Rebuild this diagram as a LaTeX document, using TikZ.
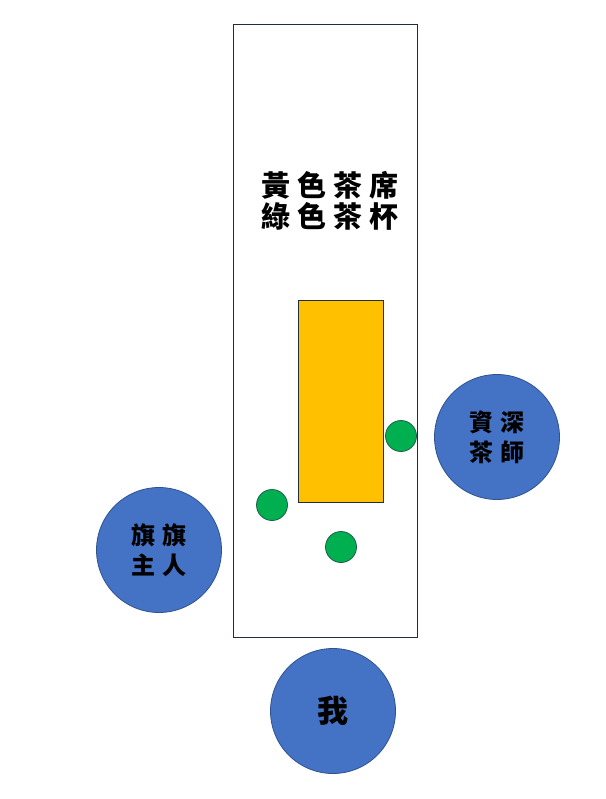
\documentclass[tikz,border=0pt]{standalone}
\usepackage{fontspec}
\newfontfamily\cjk[LetterSpace=30]{Noto Sans CJK TC}
\newfontfamily\cjkb[LetterSpace=25]{Noto Sans CJK TC}
\newfontfamily\cjkc{Noto Sans CJK TC}
\definecolor{pblue}{HTML}{4472C4}
\definecolor{pblueline}{HTML}{2F528F}
\definecolor{pgreen}{HTML}{00B050}
\definecolor{pgreenline}{HTML}{1E5E4A}
\definecolor{porange}{HTML}{FFC000}
\definecolor{pline}{HTML}{1F2D3D}
\tikzset{
  person/.style={circle, fill=pblue, draw=pblueline, line width=0.8pt, minimum size=125pt, inner sep=0pt, align=center, font=\cjk\bfseries\fontsize{24}{30}\selectfont},
  cup/.style={circle, fill=pgreen, draw=pgreenline, line width=0.8pt, minimum size=31pt, inner sep=0pt},
}
\begin{document}
\begin{tikzpicture}[x=1pt,y=1pt]
\useasboundingbox (0,0) rectangle (605,-799);
\node[draw=pline, line width=0.8pt, minimum width=184pt, minimum height=613pt, inner sep=0pt] (table) at (325,-330.5) {};
\node[fill=porange, draw=pline, line width=0.6pt, minimum width=85pt, minimum height=202pt, inner sep=0pt] (mat) at (341,-401) {};
\node[align=center, font=\cjkb\bfseries\fontsize{29}{31}\selectfont] (title) at (330,-201) {黃色茶席\\綠色茶杯};
\node[cup] (c1) at (401,-436) {};
\node[cup] (c2) at (272,-505) {};
\node[cup] (c3) at (341,-547) {};
\node[person] (p1) at (497,-437) {資深\\茶師};
\node[person] (p2) at (159,-550) {旗旗\\主人};
\node[person, font=\cjkc\bfseries\fontsize{31}{32}\selectfont] (p3) at (333,-711) {我};
\end{tikzpicture}
\end{document}
